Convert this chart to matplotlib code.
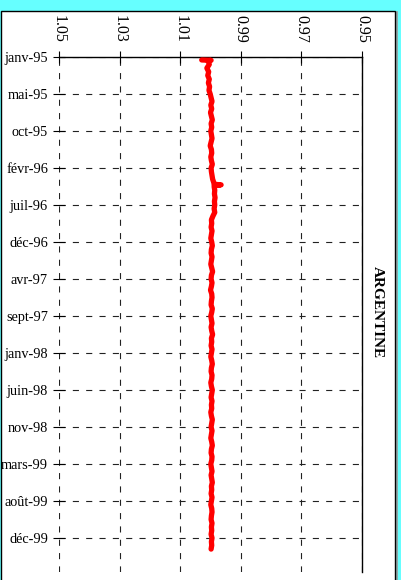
import matplotlib
matplotlib.use("Agg")
import matplotlib.pyplot as plt
from matplotlib.patches import Rectangle
from matplotlib.lines import Line2D

# ---------------- data ----------------
tick_labels = ["janv-95", "mai-95", "oct-95", "févr-96", "juil-96", "déc-96",
               "avr-97", "sept-97", "janv-98", "juin-98", "nov-98", "mars-99",
               "août-99", "déc-99"]
x_ticks = [1.05, 1.03, 1.01, 0.99, 0.97, 0.95]
title = "ARGENTINE"

start_pos = [0.8, 0.9]
start_vals = [1.0029, 0.9998]

early_pos = list(range(1, 34))
early_vals = [1.0008, 1.0004, 1.0012, 1.0006, 1.0009, 1.0004, 1.0007, 1.0003,
              1.0005, 1.0001,
              0.9998, 0.9995, 0.9999, 0.9996, 1.0000, 0.9997, 0.9994, 0.9998,
              0.9996, 0.9999, 0.9997, 0.9995, 0.9998, 1.0001, 0.9997, 0.9996,
              0.9999, 0.9997, 0.9994, 0.9998, 0.9997, 0.9995, 0.9993]

jump_pos = [33.5, 34.0, 34.4, 34.55, 34.7, 35.0, 36, 37, 38, 39, 40, 41, 42, 43, 44]
jump_vals = [0.9991, 0.9989, 0.9988, 0.9965, 0.9987, 0.9988, 0.9986, 0.9987,
             0.9985, 0.9987, 0.9986, 0.9988, 0.9986, 0.9992, 0.9997]

late_pos = list(range(45, 134))
late_vals = [0.9996, 0.9998, 0.9995, 0.9997, 0.9999, 0.9996, 0.9994, 0.9997, 0.9998, 0.9995,
             0.9997, 0.9999, 0.9996, 0.9993, 0.9997, 0.9998, 0.9995, 0.9997, 1.0000, 0.9996,
             0.9995, 0.9997, 0.9998, 0.9994, 0.9996, 0.9999, 0.9997, 0.9995, 0.9998, 0.9996,
             0.9993, 0.9997, 0.9996, 0.9998, 0.9995, 0.9997, 0.9999, 0.9996, 0.9994, 0.9997,
             0.9998, 0.9995, 0.9996, 0.9999, 0.9997, 0.9994, 0.9996, 0.9998, 0.9995, 0.9997,
             0.9996, 0.9999, 0.9997, 0.9994, 0.9996, 0.9998, 0.9995, 0.9997, 0.9999, 0.9996,
             0.9994, 0.9997, 0.9998, 0.9995, 0.9996, 0.9999, 0.9997, 0.9995, 0.9998, 0.9996,
             0.9994, 0.9997, 0.9996, 0.9998, 0.9995, 0.9997, 0.9999, 0.9996, 0.9995, 0.9997,
             0.9998, 0.9995, 0.9997, 0.9996, 0.9998, 0.9995, 0.9997, 0.9996, 0.9998]

pos = start_pos + early_pos + jump_pos + late_pos
vals = start_vals + early_vals + jump_vals + late_vals

# ---------------- figure ----------------
plt.rcParams['font.family'] = ['Liberation Serif', 'DejaVu Serif']
W, H = 401, 580
fig = plt.figure(figsize=(W / 100, H / 100), dpi=100)
fig.patch.set_facecolor('#66FFFF')

# white panel
fig.patches.append(Rectangle((0.5 / W, -0.02), 394 / W, (H - 11) / H + 0.02,
                             transform=fig.transFigure, fc='white', ec='black',
                             lw=1.0, zorder=-5))
fig.lines.append(Line2D([396.5 / W, 396.5 / W], [0, 1 - 12 / H],
                        transform=fig.transFigure, color='#9a9a9a', lw=1.2, zorder=-5))

left, right, top, bottom = 59, 362, 57, 572
ax = fig.add_axes([left / W, 1 - bottom / H, (right - left) / W, (bottom - top) / H])
ax.set_facecolor('none')

ax.plot(vals, pos, color='#FF0000', lw=3.8, solid_joinstyle='round',
        solid_capstyle='round', zorder=5)

ax.set_xlim(1.05, 0.95)
ax.set_ylim((bottom - top) / 3.7, 0)

ax.set_xticks(x_ticks)
ax.set_xticklabels([f"{v:.2f}" for v in x_ticks], rotation=-90, fontsize=11.5)
ax.xaxis.tick_top()
ax.set_yticks([10 * i for i in range(len(tick_labels))])
ax.set_yticklabels(tick_labels, fontsize=10.3)

ax.tick_params(axis='x', direction='inout', length=8, width=0.8, pad=6, colors='black')
ax.tick_params(axis='y', direction='inout', length=8, width=0.8, pad=4, colors='black')

dash = (0, (5.5, 6.5))
ax.grid(True, axis='both', color='#222222', lw=0.8, linestyle=dash)
ax.set_axisbelow(True)

for s in ['left', 'bottom']:
    ax.spines[s].set_visible(False)
for s in ['top', 'right']:
    ax.spines[s].set_color('black')
    ax.spines[s].set_linewidth(1.0)

fig.text(377 / W, 1 - 312 / H, title, rotation=-90, fontsize=11, fontweight='bold',
         ha='center', va='center')

fig.savefig('out.png', dpi=100, facecolor=fig.get_facecolor())
